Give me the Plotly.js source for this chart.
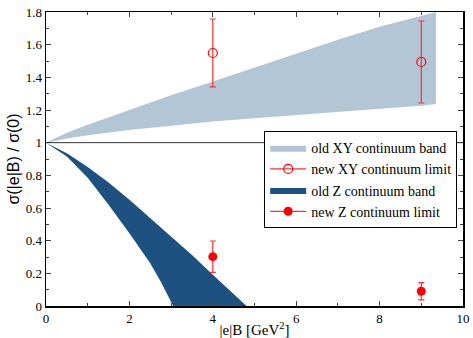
<!DOCTYPE html>
<html><head><meta charset="utf-8">
<script src="https://cdn.plot.ly/plotly-3.0.1.min.js"></script>
<style>html,body{margin:0;padding:0;background:#fff}#plot{width:473px;height:338px}</style>
</head><body><div id="plot"></div>
<script>
// old XY continuum band
var xyBandX     = [0, 0.5, 1, 2, 3, 4, 5, 6, 7, 8, 9, 9.35];
var xyBandUpper = [1, 1.06, 1.11, 1.20, 1.29, 1.375, 1.46, 1.545, 1.63, 1.71, 1.78, 1.80];
var xyBandLower = [1, 1.025, 1.045, 1.078, 1.105, 1.13, 1.15, 1.17, 1.19, 1.208, 1.226, 1.237];
// old Z continuum band
var zUpperX = [0, 0.5, 1, 1.5, 2, 2.5, 3, 3.5, 4, 4.5, 4.81];
var zUpperY = [1, 0.935, 0.851, 0.756, 0.650, 0.537, 0.425, 0.312, 0.192, 0.072, 0];
var zLowerX = [0, 0.5, 1, 1.5, 2, 2.25, 2.5, 2.75, 3.05];
var zLowerY = [1, 0.915, 0.785, 0.62, 0.445, 0.355, 0.262, 0.15, 0];
// new continuum limits
var ptX = [4, 9];
var xyNew = [1.549, 1.494];
var xyErrPlus = [0.208, 0.251];
var xyErrMinus = [0.208, 0.251];
var zNew = [0.302, 0.090];
var zErrPlus = [0.096, 0.053];
var zErrMinus = [0.096, 0.053];

var names = ['old XY continuum band', 'new XY continuum limit', 'old Z continuum band', 'new Z continuum limit'];

function poly(xu, yu, xl, yl) {
  return {x: xu.concat(xl.slice().reverse()), y: yu.concat(yl.slice().reverse())};
}
// insert gaps so that no line joins the separate points (line only shows in legend)
function gapped(a) { var o = []; a.forEach(function (v, i) { if (i) o.push(null); o.push(v); }); return o; }
var pxy = poly(xyBandX, xyBandUpper, xyBandX, xyBandLower);
var pz = poly(zUpperX, zUpperY, zLowerX, zLowerY);

var traces = [
  {x: pxy.x, y: pxy.y, type: 'scatter', mode: 'lines', fill: 'toself',
   fillcolor: '#b3c6d6', line: {width: 0, color: '#b3c6d6'}, name: names[0], hoverinfo: 'skip'},
  {x: gapped(ptX), y: gapped(xyNew), type: 'scatter', mode: 'lines+markers', connectgaps: false, name: names[1],
   line: {color: '#ff3030', width: 1.2},
   marker: {symbol: 'circle-open', size: 9, color: '#ff0000', line: {width: 1.2, color: '#ff0000'}},
   error_y: {type: 'data', symmetric: false, array: gapped(xyErrPlus), arrayminus: gapped(xyErrMinus), color: '#ff3030', thickness: 1.2, width: 3}},
  {x: pz.x, y: pz.y, type: 'scatter', mode: 'lines', fill: 'toself',
   fillcolor: '#1c5180', line: {width: 0, color: '#1c5180'}, name: names[2], hoverinfo: 'skip'},
  {x: gapped(ptX), y: gapped(zNew), type: 'scatter', mode: 'lines+markers', connectgaps: false, name: names[3],
   line: {color: '#ff3030', width: 1.2},
   marker: {symbol: 'circle', size: 9, color: '#ff0000'},
   error_y: {type: 'data', symmetric: false, array: gapped(zErrPlus), arrayminus: gapped(zErrMinus), color: '#ff3030', thickness: 1.2, width: 3}}
];

var serif = "'Liberation Serif', 'DejaVu Serif', serif";
var layout = {
  width: 473, height: 338,
  margin: {l: 46, r: 10, t: 12, b: 32},
  paper_bgcolor: '#fff', plot_bgcolor: '#fff',
  font: {family: serif, size: 13, color: '#000'},
  showlegend: true,
  legend: {x: 0.986, y: 0.43, xanchor: 'right', yanchor: 'middle',
           bordercolor: '#000', borderwidth: 1, bgcolor: '#fff',
           font: {family: serif, size: 14, color: '#000'},
           tracegroupgap: 0, itemwidth: 36},
  xaxis: {range: [0, 10], dtick: 2, tick0: 0, ticks: 'inside', ticklen: 5, tickwidth: 1,
          showline: true, linecolor: '#000', linewidth: 1.5, mirror: 'ticks', showgrid: false, zeroline: false,
          minor: {dtick: 1, ticks: 'inside', ticklen: 3, showgrid: false},
          tickfont: {family: serif, size: 13},
          title: {text: '|e|B [GeV<sup>2</sup>]', font: {family: serif, size: 15}, standoff: 2}},
  yaxis: {range: [0, 1.8], dtick: 0.2, tick0: 0, ticks: 'inside', ticklen: 5, tickwidth: 1,
          showline: true, linecolor: '#000', linewidth: 1.5, mirror: 'ticks', showgrid: false, zeroline: false,
          minor: {dtick: 0.1, ticks: 'inside', ticklen: 3, showgrid: false},
          tickfont: {family: serif, size: 13},
          title: {text: 'σ(|e|B) / σ(0)', font: {family: "'Liberation Sans', Arial, sans-serif", size: 16}, standoff: 2}},
  shapes: [{type: 'line', xref: 'paper', yref: 'y', x0: 0, x1: 1, y0: 1, y1: 1,
            line: {color: '#333', width: 1}}]
};
Plotly.newPlot('plot', traces, layout, {displayModeBar: false, staticPlot: true});
</script></body></html>
